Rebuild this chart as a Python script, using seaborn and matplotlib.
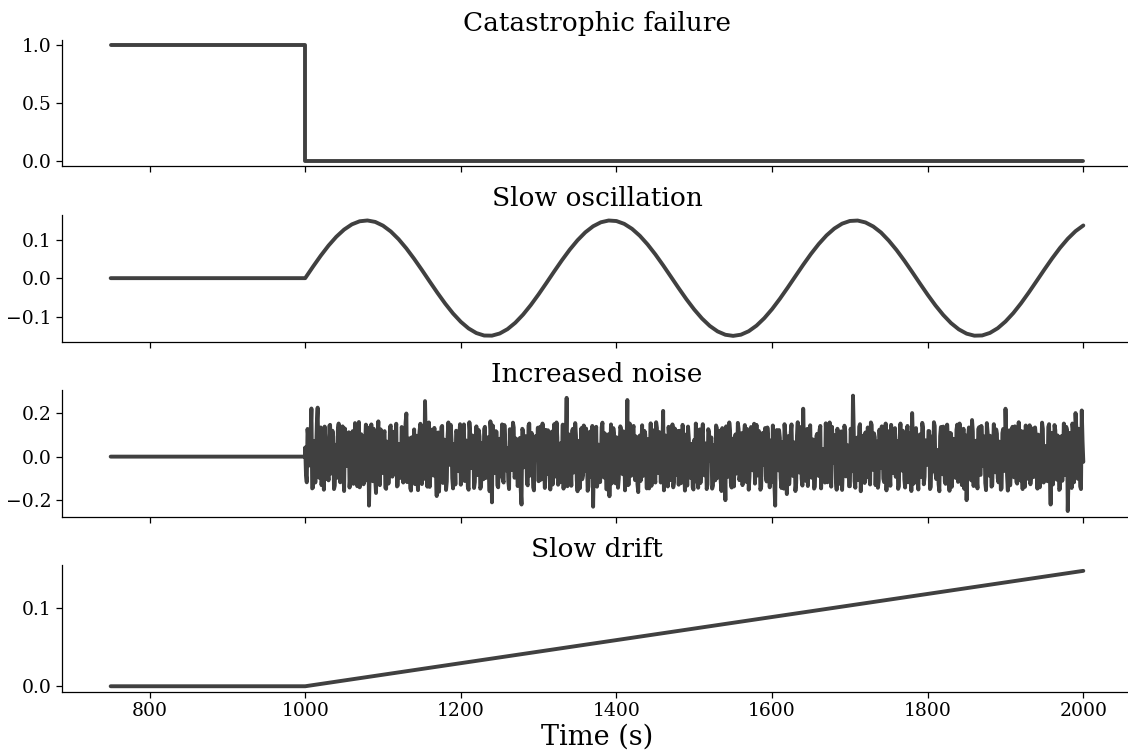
import numpy as np
import pandas as pd
import matplotlib
matplotlib.use("Agg")
import matplotlib.pyplot as plt
import seaborn as sns

# ---------------- data ----------------
titles = ["Catastrophic failure", "Slow oscillation", "Increased noise", "Slow drift"]

# Catastrophic failure (step)
fail_t = [750, 1000, 1000, 2000]
fail_v = [1.0, 1.0, 0.0, 0.0]

# Slow oscillation: flat until 1000, then sampled every 10 s up to 2000
osc_pre_t = [750]
osc_pre_v = [0.0]
osc_v = [0.0, 0.0298, 0.0584, 0.0847, 0.1076, 0.1262, 0.1398, 0.1478, 0.1499, 0.1461,
         0.1364, 0.1213, 0.1013, 0.0773, 0.0502, 0.0212, -0.0088, -0.0383, -0.0664, -0.0918,
         -0.1135, -0.1307, -0.1427, -0.1491, -0.1494, -0.1438, -0.1325, -0.1159, -0.0947, -0.0697,
         -0.0419, -0.0125, 0.0175, 0.0467, 0.0741, 0.0985, 0.1191, 0.1348, 0.1452, 0.1498,
         0.1484, 0.1411, 0.1282, 0.1102, 0.0877, 0.0618, 0.0334, 0.0037, -0.0261, -0.0550,
         -0.0816, -0.1050, -0.1242, -0.1384, -0.1471, -0.1500, -0.1469, -0.1379, -0.1234, -0.1040,
         -0.0805, -0.0537, -0.0248, 0.0050, 0.0347, 0.0630, 0.0888, 0.1111, 0.1289, 0.1416,
         0.1486, 0.1497, 0.1448, 0.1343, 0.1186, 0.0975, 0.0730, 0.0455, 0.0162, -0.0138,
         -0.0432, -0.0709, -0.0957, -0.1168, -0.1331, -0.1442, -0.1495, -0.1489, -0.1423, -0.1301,
         -0.1126, -0.0908, -0.0652, -0.0370, -0.0074, 0.0225, 0.0515, 0.0785, 0.1023, 0.1221,
         0.1369]
osc_t = list(np.linspace(1000, 2000, len(osc_v)))

# Increased noise: flat until 1000, then noisy samples every 1 s
noise_pre_t = [750, 1000]
noise_pre_v = [0.0, 0.0]
# samples at even seconds 1000, 1002, ..., 2000
noise_even_v = [
    0.042, -0.118, 0.087, -0.035, 0.221, -0.142, 0.063, 0.011, 0.225, -0.097,
    0.134, -0.061, -0.152, 0.078, 0.019, -0.109, 0.146, -0.027, 0.092, -0.133,
    0.055, 0.121, -0.074, -0.006, 0.139, -0.158, 0.081, -0.043, 0.112, -0.089,
    0.027, -0.125, 0.154, -0.018, 0.068, -0.141, 0.103, 0.036, -0.082, 0.147,
    -0.057, -0.225, 0.091, -0.014, 0.128, -0.103, 0.049, 0.162, -0.131, 0.007,
    -0.076, 0.117, -0.148, 0.064, -0.029, 0.143, -0.092, 0.022, 0.099, -0.137,
    0.058, -0.011, 0.136, -0.119, 0.041, 0.198, -0.069, 0.084, -0.156, 0.017,
    0.125, -0.047, -0.101, 0.073, 0.151, -0.126, 0.032, 0.255, -0.085, 0.108,
    -0.139, 0.046, -0.021, 0.132, -0.067, 0.088, -0.161, 0.013, 0.141, -0.094,
    0.061, -0.114, 0.157, -0.038, 0.079, -0.146, 0.004, 0.119, -0.058, 0.097,
    -0.129, 0.035, 0.148, -0.083, 0.026, -0.152, 0.106, -0.009, 0.071, -0.117,
    0.139, -0.052, 0.093, -0.136, 0.018, 0.127, -0.098, 0.054, -0.031, 0.162,
    -0.210, 0.066, -0.024, 0.113, -0.141, 0.082, 0.029, -0.107, 0.145, -0.063,
    0.038, -0.149, 0.101, -0.016, 0.134, -0.088, 0.057, -0.122, 0.086, -0.220,
    0.118, -0.044, 0.069, -0.132, 0.152, -0.071, 0.008, -0.155, 0.094, 0.024,
    -0.113, 0.137, -0.059, 0.076, -0.144, 0.044, 0.121, -0.091, 0.015, -0.128,
    0.149, -0.036, 0.087, -0.118, 0.061, -0.003, -0.147, 0.109, 0.270, -0.079,
    0.052, -0.134, 0.128, -0.022, 0.096, -0.159, 0.073, 0.031, -0.104, 0.143,
    -0.066, 0.019, -0.138, 0.115, -0.049, -0.230, 0.084, 0.137, -0.112, 0.047,
    -0.028, 0.156, -0.096, 0.062, -0.151, 0.103, 0.011, -0.123, 0.131, -0.057,
    0.089, -0.143, 0.036, 0.124, -0.081, 0.058, -0.017, 0.260, -0.127, 0.072,
    -0.046, 0.141, -0.108, 0.025, -0.163, 0.097, 0.052, -0.089, 0.118, -0.034,
    0.067, -0.146, 0.153, -0.061, 0.009, -0.119, 0.132, -0.075, 0.043, 0.106,
    0.210, -0.099, 0.021, -0.137, 0.081, -0.042, 0.148, -0.114, 0.064, -0.008,
    -0.129, 0.119, -0.053, 0.094, -0.156, 0.037, 0.138, -0.086, 0.013, -0.141,
    0.077, 0.152, -0.068, 0.029, -0.121, 0.105, -0.032, 0.061, -0.149, 0.126,
    -0.019, 0.088, -0.133, 0.046, 0.143, -0.097, 0.004, -0.115, 0.131, -0.055,
    -0.200, 0.071, -0.026, 0.117, -0.142, 0.083, 0.034, -0.078, 0.155, -0.108,
    0.016, -0.131, 0.099, -0.047, 0.127, -0.152, 0.058, -0.012, 0.092, -0.124,
    0.146, -0.069, 0.041, -0.138, 0.109, 0.023, -0.091, 0.134, -0.037, 0.074,
    -0.115, 0.051, -0.225, 0.122, -0.063, 0.087, -0.144, 0.018, 0.149, -0.083,
    0.032, -0.127, 0.113, -0.009, 0.066, -0.158, 0.097, -0.041, 0.136, -0.101,
    0.220, -0.073, 0.048, -0.135, 0.121, -0.024, 0.079, -0.147, 0.014, 0.105,
    -0.089, 0.141, -0.056, 0.027, -0.119, 0.093, -0.031, 0.157, -0.138, 0.062,
    0.006, -0.104, 0.128, -0.067, 0.084, -0.153, 0.039, 0.116, -0.082, 0.021,
    -0.136, 0.099, 0.280, -0.112, 0.054, -0.045, 0.137, -0.159, 0.071, -0.018,
    0.111, -0.094, 0.033, -0.128, 0.146, -0.061, 0.089, 0.002, -0.143, 0.124,
    -0.051, 0.067, -0.117, 0.152, -0.029, 0.043, -0.134, 0.098, -0.076, 0.131,
    0.017, -0.148, 0.086, -0.039, 0.119, -0.105, 0.058, 0.141, -0.087, 0.028,
    0.200, -0.124, 0.064, -0.011, -0.151, 0.102, -0.058, 0.133, -0.093, 0.046,
    -0.022, 0.117, -0.139, 0.075, 0.158, -0.071, 0.031, -0.126, 0.094, -0.048,
    0.138, -0.114, 0.012, 0.083, -0.157, 0.106, -0.035, 0.055, -0.098, 0.147,
    -0.066, 0.024, -0.131, 0.128, -0.043, -0.200, 0.091, 0.039, -0.109, 0.115,
    -0.017, 0.073, -0.146, 0.135, -0.084, 0.051, 0.001, -0.121, 0.154, -0.062,
    0.096, -0.138, 0.037, -0.029, 0.125, -0.099, 0.069, -0.152, 0.108, 0.019,
    0.220, -0.087, 0.047, -0.132, 0.091, -0.054, 0.139, -0.116, 0.026, -0.073,
    0.118, -0.149, 0.062, 0.143, -0.038, 0.081, -0.127, 0.015, -0.094, 0.134,
    -0.057, 0.101, -0.141, 0.044, 0.127, -0.079, 0.033, -0.113, 0.149, -0.220,
    0.086, -0.031, 0.121, -0.106, 0.059, -0.148, 0.094, 0.008, -0.084, 0.137,
    -0.250, 0.109, -0.042, 0.152, -0.118, 0.200, -0.066, 0.128, -0.137, 0.212,
    -0.024]
# samples at odd seconds 1001, 1003, ..., 1999
noise_odd_v = [
    -0.083, 0.127, -0.041, 0.108, -0.146, 0.072, -0.119, 0.154, -0.026, 0.095,
    -0.131, 0.063, 0.138, -0.102, -0.057, 0.141, -0.078, 0.119, -0.149, 0.034,
    -0.097, 0.152, -0.118, 0.086, -0.064, 0.129, -0.037, 0.104, -0.142, 0.071,
    0.117, -0.088, 0.046, -0.136, 0.159, -0.021, 0.093, -0.127, 0.062, -0.109,
    0.133, -0.052, 0.148, -0.113, 0.028, -0.167, 0.081, -0.094, 0.125, -0.039,
    0.106, -0.143, 0.069, -0.124, 0.137, -0.058, 0.114, -0.081, 0.151, -0.132,
    0.044, -0.098, 0.121, -0.069, 0.155, -0.117, 0.036, -0.145, 0.089, -0.012,
    -0.126, 0.096, -0.154, 0.118, -0.033, 0.142, -0.102, 0.067, -0.138, 0.157,
    -0.071, 0.124, -0.087, 0.049, -0.181, 0.111, -0.045, 0.135, -0.121, 0.078,
    -0.153, 0.092, -0.034, 0.146, -0.099, 0.058, -0.128, 0.113, -0.067, 0.149,
    -0.016, 0.131, -0.112, 0.074, -0.139, 0.158, -0.053, 0.097, -0.144, 0.039,
    -0.085, 0.122, -0.147, 0.061, -0.104, 0.137, -0.028, 0.089, -0.159, 0.107,
    0.143, -0.076, 0.117, -0.132, 0.052, -0.091, 0.148, -0.119, 0.068, -0.035,
    -0.111, 0.126, -0.062, 0.156, -0.097, 0.083, -0.135, 0.041, -0.153, 0.128,
    -0.049, 0.094, -0.124, 0.142, -0.087, 0.109, -0.141, 0.057, -0.015, 0.133,
    0.071, -0.106, 0.152, -0.038, 0.123, -0.079, 0.098, -0.151, 0.115, -0.064,
    -0.092, 0.157, -0.129, 0.036, -0.116, 0.147, -0.055, 0.077, -0.136, 0.102,
    -0.041, 0.118, -0.073, 0.154, -0.108, 0.047, -0.145, 0.131, -0.086, 0.063,
    0.129, -0.157, 0.072, -0.093, 0.141, -0.024, 0.112, -0.138, 0.055, -0.117,
    0.134, -0.066, 0.107, -0.149, 0.085, -0.182, 0.148, -0.047, 0.099, -0.123,
    0.058, -0.101, 0.139, -0.074, 0.116, -0.155, 0.045, -0.131, 0.152, -0.088,
    0.126, -0.037, 0.093, -0.127, 0.068, -0.112, 0.144, -0.059, 0.103, -0.146,
    0.081, -0.018, -0.134, 0.121, -0.096, 0.158, -0.072, 0.113, -0.119, 0.026,
    -0.155, 0.097, -0.062, 0.137, -0.108, 0.052, -0.141, 0.129, -0.083, 0.118,
    0.067, -0.122, 0.146, -0.045, 0.101, -0.133, 0.084, -0.097, 0.059, -0.151,
    -0.114, 0.091, -0.143, 0.125, -0.051, 0.149, -0.086, 0.035, -0.128, 0.112,
    0.076, -0.147, 0.054, -0.109, 0.132, -0.068, 0.119, -0.158, 0.088, -0.031,
    0.139, -0.093, 0.157, -0.121, 0.046, -0.137, 0.102, -0.055, 0.126, -0.079,
    0.108, -0.044, 0.145, -0.116, 0.073, -0.092, 0.136, -0.063, 0.151, -0.024,
    -0.087, 0.118, -0.152, 0.097, -0.036, 0.131, -0.114, 0.079, -0.141, 0.056,
    0.143, -0.128, 0.083, -0.019, 0.122, -0.099, 0.066, -0.147, 0.104, -0.172,
    0.094, -0.061, 0.148, -0.089, 0.039, -0.121, 0.158, -0.073, 0.115, -0.133,
    0.057, -0.111, 0.127, -0.043, 0.144, -0.097, 0.078, -0.138, 0.095, -0.056,
    0.121, -0.146, 0.035, -0.082, 0.153, -0.118, 0.061, -0.104, 0.137, -0.027,
    0.099, -0.152, 0.074, -0.125, 0.116, -0.048, 0.142, -0.091, 0.052, -0.136,
    0.128, -0.067, 0.113, -0.143, 0.087, -0.108, 0.149, -0.034, 0.096, -0.121,
    -0.058, 0.134, -0.086, 0.157, -0.029, 0.107, -0.131, 0.069, -0.114, 0.042,
    0.139, -0.101, 0.048, -0.155, 0.117, -0.077, 0.146, -0.052, 0.124, -0.093,
    0.071, -0.136, 0.152, -0.064, 0.097, -0.142, 0.033, -0.118, 0.108, -0.158,
    0.084, -0.046, 0.131, -0.112, 0.059, -0.094, 0.155, -0.127, 0.075, -0.038,
    0.118, -0.149, 0.092, -0.068, 0.141, -0.103, 0.027, -0.159, 0.136, -0.081,
    0.063, -0.125, 0.147, -0.037, 0.109, -0.139, 0.082, -0.055, 0.123, -0.116,
    0.152, -0.091, 0.038, -0.148, 0.097, -0.063, 0.134, -0.021, 0.168, -0.135,
    0.069, -0.107, 0.126, -0.079, 0.141, -0.043, 0.093, -0.154, 0.112, -0.087,
    0.056, -0.131, 0.149, -0.072, 0.104, -0.118, 0.034, -0.145, 0.127, -0.066,
    0.088, -0.156, 0.121, -0.049, 0.137, -0.095, 0.073, -0.124, 0.158, -0.109,
    -0.043, 0.115, -0.139, 0.061, -0.102, 0.144, -0.076, 0.129, -0.057, 0.094,
    -0.147, 0.078, -0.033, 0.156, -0.119, 0.049, -0.091, 0.136, -0.064, 0.109,
    -0.128, 0.145, -0.071, 0.097, -0.153, 0.039, -0.111, 0.152, -0.058, 0.124,
    -0.097, 0.063, -0.144, 0.118, -0.036, 0.131, -0.102, 0.087, -0.149, 0.073]

noise_v = np.empty(len(noise_even_v) + len(noise_odd_v))
noise_v[0::2] = noise_even_v
noise_v[1::2] = noise_odd_v
noise_t = list(np.linspace(1000, 2000, len(noise_v)))

# Slow drift
drift_t = [750, 1000, 2000]
drift_v = [0.0, 0.0, 0.147]

yticks = [[0.0, 0.5, 1.0], [-0.1, 0.0, 0.1], [-0.2, 0.0, 0.2], [0.0, 0.1]]
xticks = [800, 1000, 1200, 1400, 1600, 1800, 2000]
xlabel = "Time (s)"

series = [
    (fail_t, fail_v),
    (osc_pre_t + osc_t, osc_pre_v + osc_v),
    (noise_pre_t + noise_t, noise_pre_v + list(noise_v)),
    (drift_t, drift_v),
]

# ---------------- plot ----------------
sns.set_style("ticks")
plt.rcParams["font.family"] = ["DejaVu Serif"]
plt.rcParams["axes.edgecolor"] = "black"
plt.rcParams["xtick.color"] = "black"
plt.rcParams["ytick.color"] = "black"
plt.rcParams["text.color"] = "black"
plt.rcParams["axes.labelcolor"] = "black"

fig, axes = plt.subplots(4, 1, sharex=True, figsize=(11.28, 7.54), dpi=100)
fig.subplots_adjust(left=0.055, right=1.0035, top=0.9476, bottom=0.0822, hspace=0.38)

line_color = "#404040"
for ax, title, (t, v), yt in zip(axes, titles, series, yticks):
    df = pd.DataFrame({"t": t, "v": v})
    sns.lineplot(data=df, x="t", y="v", ax=ax, estimator=None, sort=False,
                 color=line_color, linewidth=2.8)
    ax.set_title(title, fontsize=19, pad=6)
    ax.set_yticks(yt)
    ax.set_ylabel("")
    ax.set_xlabel("")
    ax.tick_params(axis="both", labelsize=13.5, length=4, width=0.9)
    for s in ["left", "bottom"]:
        ax.spines[s].set_linewidth(0.9)
    sns.despine(ax=ax)

axes[-1].set_xticks(xticks)
axes[-1].set_xlabel(xlabel, fontsize=19.5, labelpad=2)

fig.savefig("out.png", dpi=100)
